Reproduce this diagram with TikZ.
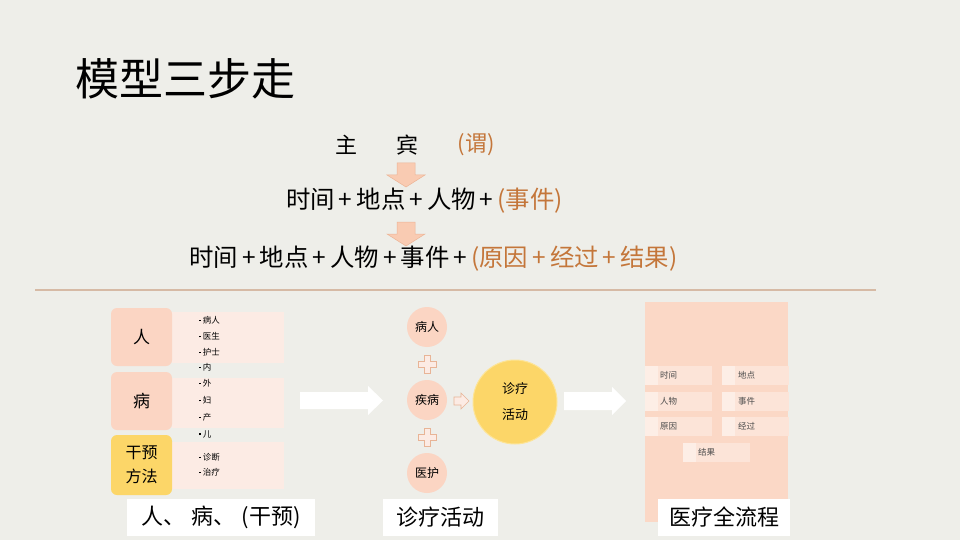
\documentclass[tikz,border=0pt]{standalone}
\usepackage{fontspec}
\setmainfont{Noto Sans CJK SC}
\usetikzlibrary{shapes.arrows,shapes.geometric}
\definecolor{bg}{RGB}{238,238,233}
\definecolor{orn}{RGB}{196,118,58}
\definecolor{peach}{RGB}{251,213,195}
\definecolor{peachd}{RGB}{232,180,150}
\definecolor{yel}{RGB}{252,214,104}
\definecolor{pinkl}{RGB}{252,235,228}
\definecolor{rule}{RGB}{214,186,165}
\definecolor{bigp}{RGB}{251,216,198}
\definecolor{cell}{RGB}{252,228,216}
\definecolor{cellt}{RGB}{253,238,230}
\tikzset{
  txt/.style={inner sep=0pt, anchor=center},
  catbox/.style={rounded corners=6pt, fill=peach, draw=none},
  panel/.style={fill=pinkl, draw=none},
  item/.style={inner sep=0pt, anchor=west, font=\fontsize{8.5}{9}\selectfont},
  lab/.style={fill=white, draw=none, inner sep=0pt, font=\fontsize{22}{24}\selectfont},
  circ/.style={circle, fill=peach, minimum size=40pt, inner sep=0pt, font=\fontsize{12}{13}\selectfont},
  cellbox/.style={fill=cell, minimum width=67pt, minimum height=19pt, inner sep=0pt},
  celltxt/.style={inner sep=0pt, anchor=west, font=\fontsize{8.5}{9}\selectfont, text=black!70},
  downarr/.style={fill={rgb,255:red,249;green,203;blue,178}, draw={rgb,255:red,236;green,180;blue,150}, line width=0.5pt},
  wharr/.style={fill=white, draw=none},
  plusst/.style={fill=pinkl, draw=peachd, line width=0.6pt},
}
\newcommand{\bul}{\rule[2pt]{1.6pt}{1.6pt}\hspace{2pt}}
\begin{document}
\begin{tikzpicture}[x=1pt,y=-1pt]
\useasboundingbox (0,0) rectangle (960,540);
\fill[bg] (0,0) rectangle (960,540);

% title
\node[txt, anchor=west, font=\fontsize{44}{46}\selectfont] (title) at (75,79) {模型三步走};

% line 1
\node[txt, font=\fontsize{22}{24}\selectfont] (zhu) at (346,145) {主};
\node[txt, font=\fontsize{22}{24}\selectfont] (bin) at (407,145) {宾};
\node[txt, font=\fontsize{22}{24}\selectfont, text=orn] (wei) at (476,145) {(谓)};

% arrow 1
\draw[downarr] (397,163) -- (415,163) -- (415,175) -- (425,175) -- (406,187) -- (387,175) -- (397,175) -- cycle;
\coordinate (a1) at (406,175);

% line 2
\node[txt, font=\fontsize{24.4}{26}\selectfont] (l2) at (424.5,201) {时间\,+\,地点\,+\,人物\,+\,\textcolor{orn}{(事件)}};

% arrow 2
\draw[downarr] (397,222) -- (415,222) -- (415,234) -- (425,234) -- (406,246) -- (387,234) -- (397,234) -- cycle;
\coordinate (a2) at (406,234);

% line 3
\node[txt, font=\fontsize{24.4}{26}\selectfont] (l3) at (433.5,259) {时间\,+\,地点\,+\,人物\,+\,事件\,+\,\textcolor{orn}{(原因\,+\,经过\,+\,结果)}};

% rule
\coordinate (r1) at (35,290);
\coordinate (r2) at (876,290);
\draw[rule, line width=1.2pt] (r1) -- (r2);

% ---------- left section
\fill[panel] (172,312) rectangle (284,363);
\fill[panel] (172,378) rectangle (284,428);
\fill[panel] (172,442) rectangle (284,489);
\fill[catbox] (111,308) rectangle (172,366);
\fill[catbox] (111,372) rectangle (172,430);
\fill[catbox, fill=yel] (111,435) rectangle (172,495);
\node[txt, font=\fontsize{17}{18}\selectfont] (ren) at (141.5,337) {人};
\node[txt, font=\fontsize{17}{18}\selectfont] (bing) at (141.5,401) {病};
\node[txt, font=\fontsize{16}{24}\selectfont, align=center] (gy) at (141.5,465) {干预\\方法};

\node[item] (i1) at (199,320) {\bul 病人};
\node[item] (i2) at (199,336) {\bul 医生};
\node[item] (i3) at (199,352) {\bul 护士};
\node[item] (i4) at (199,367) {\bul 内};
\node[item] (i5) at (199,383) {\bul 外};
\node[item] (i6) at (199,400) {\bul 妇};
\node[item] (i7) at (199,417) {\bul 产};
\node[item] (i8) at (199,434) {\bul 儿};
\node[item] (i9) at (199,457) {\bul 诊断};
\node[item] (i10) at (199,472) {\bul 治疗};

\node[lab, minimum width=188pt, minimum height=37pt] (lab1) at (221,517.5) {人、\;病、\;(干预)};

% white arrow 1
\fill[wharr] (300,392) -- (368,392) -- (368,386) -- (383,400.5) -- (368,415) -- (368,409) -- (300,409) -- cycle;
\coordinate (w1) at (340,400);

% ---------- middle
\node[circ] (c1) at (427,327) {病人};
\node[circ] (c2) at (427,400) {疾病};
\node[circ] (c3) at (427,473) {医护};
\draw[plusst] (424,355) -- (430,355) -- (430,361) -- (436,361) -- (436,367) -- (430,367) -- (430,373) -- (424,373) -- (424,367) -- (418,367) -- (418,361) -- (424,361) -- cycle;
\draw[plusst] (424,428) -- (430,428) -- (430,434) -- (436,434) -- (436,440) -- (430,440) -- (430,446) -- (424,446) -- (424,440) -- (418,440) -- (418,434) -- (424,434) -- cycle;
\coordinate (p1) at (427,364);
\coordinate (p2) at (427,437);
\draw[plusst] (454,397) -- (461,397) -- (461,393) -- (469,401) -- (461,409) -- (461,405) -- (454,405) -- cycle;
\node[circle, fill=yel, draw={rgb,255:red,253;green,228;blue,150}, line width=1pt, minimum size=84pt, inner sep=0pt, font=\fontsize{13}{26}\selectfont, align=center] (big) at (515,402) {诊疗\\活动};

\node[lab, minimum width=115pt, minimum height=37pt] (lab2) at (440.5,517.5) {诊疗活动};

% white arrow 2
\fill[wharr] (564,392) -- (612,392) -- (612,387) -- (626,401) -- (612,415) -- (612,410) -- (564,410) -- cycle;
\coordinate (w2) at (595,401);

% ---------- right
\fill[bigp] (645,302) rectangle (788,522);
\node[cellbox] (t1) at (678.5,375) {};
\node[cellbox] (t2) at (755.5,375) {};
\node[cellbox] (t3) at (678.5,401) {};
\node[cellbox] (t4) at (755.5,401) {};
\node[cellbox] (t5) at (678.5,426) {};
\node[cellbox] (t6) at (755.5,426) {};
\node[cellbox] (t7) at (716.5,452) {};
\fill[cellt] (645,365.5) rectangle (658,384.5);
\fill[cellt] (722,365.5) rectangle (735,384.5);
\fill[cellt] (645,391.5) rectangle (658,410.5);
\fill[cellt] (722,391.5) rectangle (735,410.5);
\fill[cellt] (645,416.5) rectangle (658,435.5);
\fill[cellt] (722,416.5) rectangle (735,435.5);
\fill[cellt] (683,442.5) rectangle (696,461.5);
\node[celltxt] (s1) at ([xshift=15pt]t1.west) {时间};
\node[celltxt] (s2) at ([xshift=16pt]t2.west) {地点};
\node[celltxt] (s3) at ([xshift=15pt]t3.west) {人物};
\node[celltxt] (s4) at ([xshift=16pt]t4.west) {事件};
\node[celltxt] (s5) at ([xshift=15pt]t5.west) {原因};
\node[celltxt] (s6) at ([xshift=16pt]t6.west) {经过};
\node[celltxt] (s7) at ([xshift=15pt]t7.west) {结果};

\node[lab, minimum width=132pt, minimum height=37pt] (lab3) at (724,517.5) {医疗全流程};
\end{tikzpicture}
\end{document}
